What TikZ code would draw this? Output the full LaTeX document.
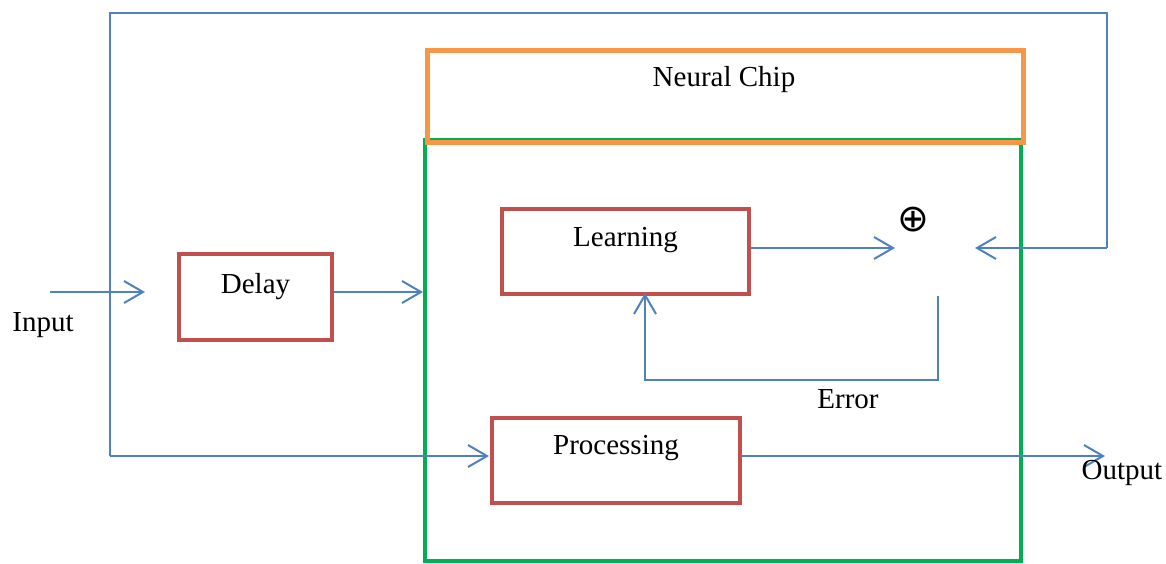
\documentclass[tikz,border=0pt]{standalone}
\usepackage{fontspec}
\setmainfont{Liberation Serif}
\newfontfamily\symfont{DejaVu Sans}
\usetikzlibrary{arrows.meta}
\definecolor{lblue}{HTML}{4F81BD}
\definecolor{lred}{HTML}{C0504D}
\definecolor{lorange}{HTML}{F79646}
\definecolor{lgreen}{HTML}{00B050}
\tikzset{
  blk/.style={draw=lred, line width=4pt, inner sep=0pt, anchor=north west},
  conn/.style={draw=lblue, line width=2pt},
  arr/.style={conn, -{Straight Barb[length=19pt, width=22pt, line width=2pt]}},
  lbl/.style={font=\fontsize{29}{34}\selectfont, inner sep=0pt},
}
\begin{document}
\begin{tikzpicture}[x=1pt,y=-1pt]
\useasboundingbox (0,0) rectangle (1166,563);
% chip frame
\draw[lgreen, line width=4pt] (425,140) rectangle (1021,561);
\node[draw=lorange, line width=5pt, minimum width=596pt, minimum height=92pt, anchor=north west, inner sep=0pt] (chip) at (425,48) {};
\node[lbl] (chiplbl) at (724,80) {Neural Chip};
% blocks
\node[blk, minimum width=153pt, minimum height=86pt] (delay) at (177,252) {};
\node[lbl] at (delay.center) [yshift=10pt] {Delay};
\node[blk, minimum width=247pt, minimum height=85pt] (learn) at (500,207) {};
\node[lbl] at (learn.center) [yshift=11pt] {Learning};
\node[blk, minimum width=248pt, minimum height=85pt] (proc) at (490,416) {};
\node[lbl] at (proc.center) [yshift=12pt] {Processing};
\node[inner sep=0pt, font=\symfont\fontsize{38}{42}\selectfont] (sum) at (913,220) {⊕};
% coordinates
\coordinate (inS) at (50,292);
\coordinate (inE) at (145,292);
\coordinate (chipIn) at (423,292);
\coordinate (sumL) at (895,248);
\coordinate (sumR) at (975,248);
\coordinate (errS) at (938,296);
\coordinate (errB) at (938,380);
\coordinate (errC) at (645,380);
\coordinate (learnB) at (645,293);
\coordinate (fb1) at (110,456);
\coordinate (fb2) at (110,13);
\coordinate (fb3) at (1107,13);
\coordinate (fb4) at (1107,248);
\coordinate (procIn) at (489,456);
\coordinate (outE) at (1105,456);
% connectors
\draw[arr] (inS) -- (inE);
\draw[arr] (delay.east |- inS) -- (chipIn);
\draw[arr] (learn.east |- sumL) -- (sumL);
\draw[arr] (fb4) -- (sumR);
\draw[conn] (fb1) -- (fb2) -- (fb3) -- (fb4);
\draw[arr] (fb1) -- (procIn);
\draw[arr] (errS) -- (errB) -- (errC) -- (learnB);
\draw[arr] (proc.east |- outE) -- (outE);
% labels
\node[lbl] (inlbl) at (43,325) {Input};
\node[lbl] (errlbl) at (848,399) {Error};
\node[lbl] (outlbl) at (1122,473) {Output};
\end{tikzpicture}
\end{document}
